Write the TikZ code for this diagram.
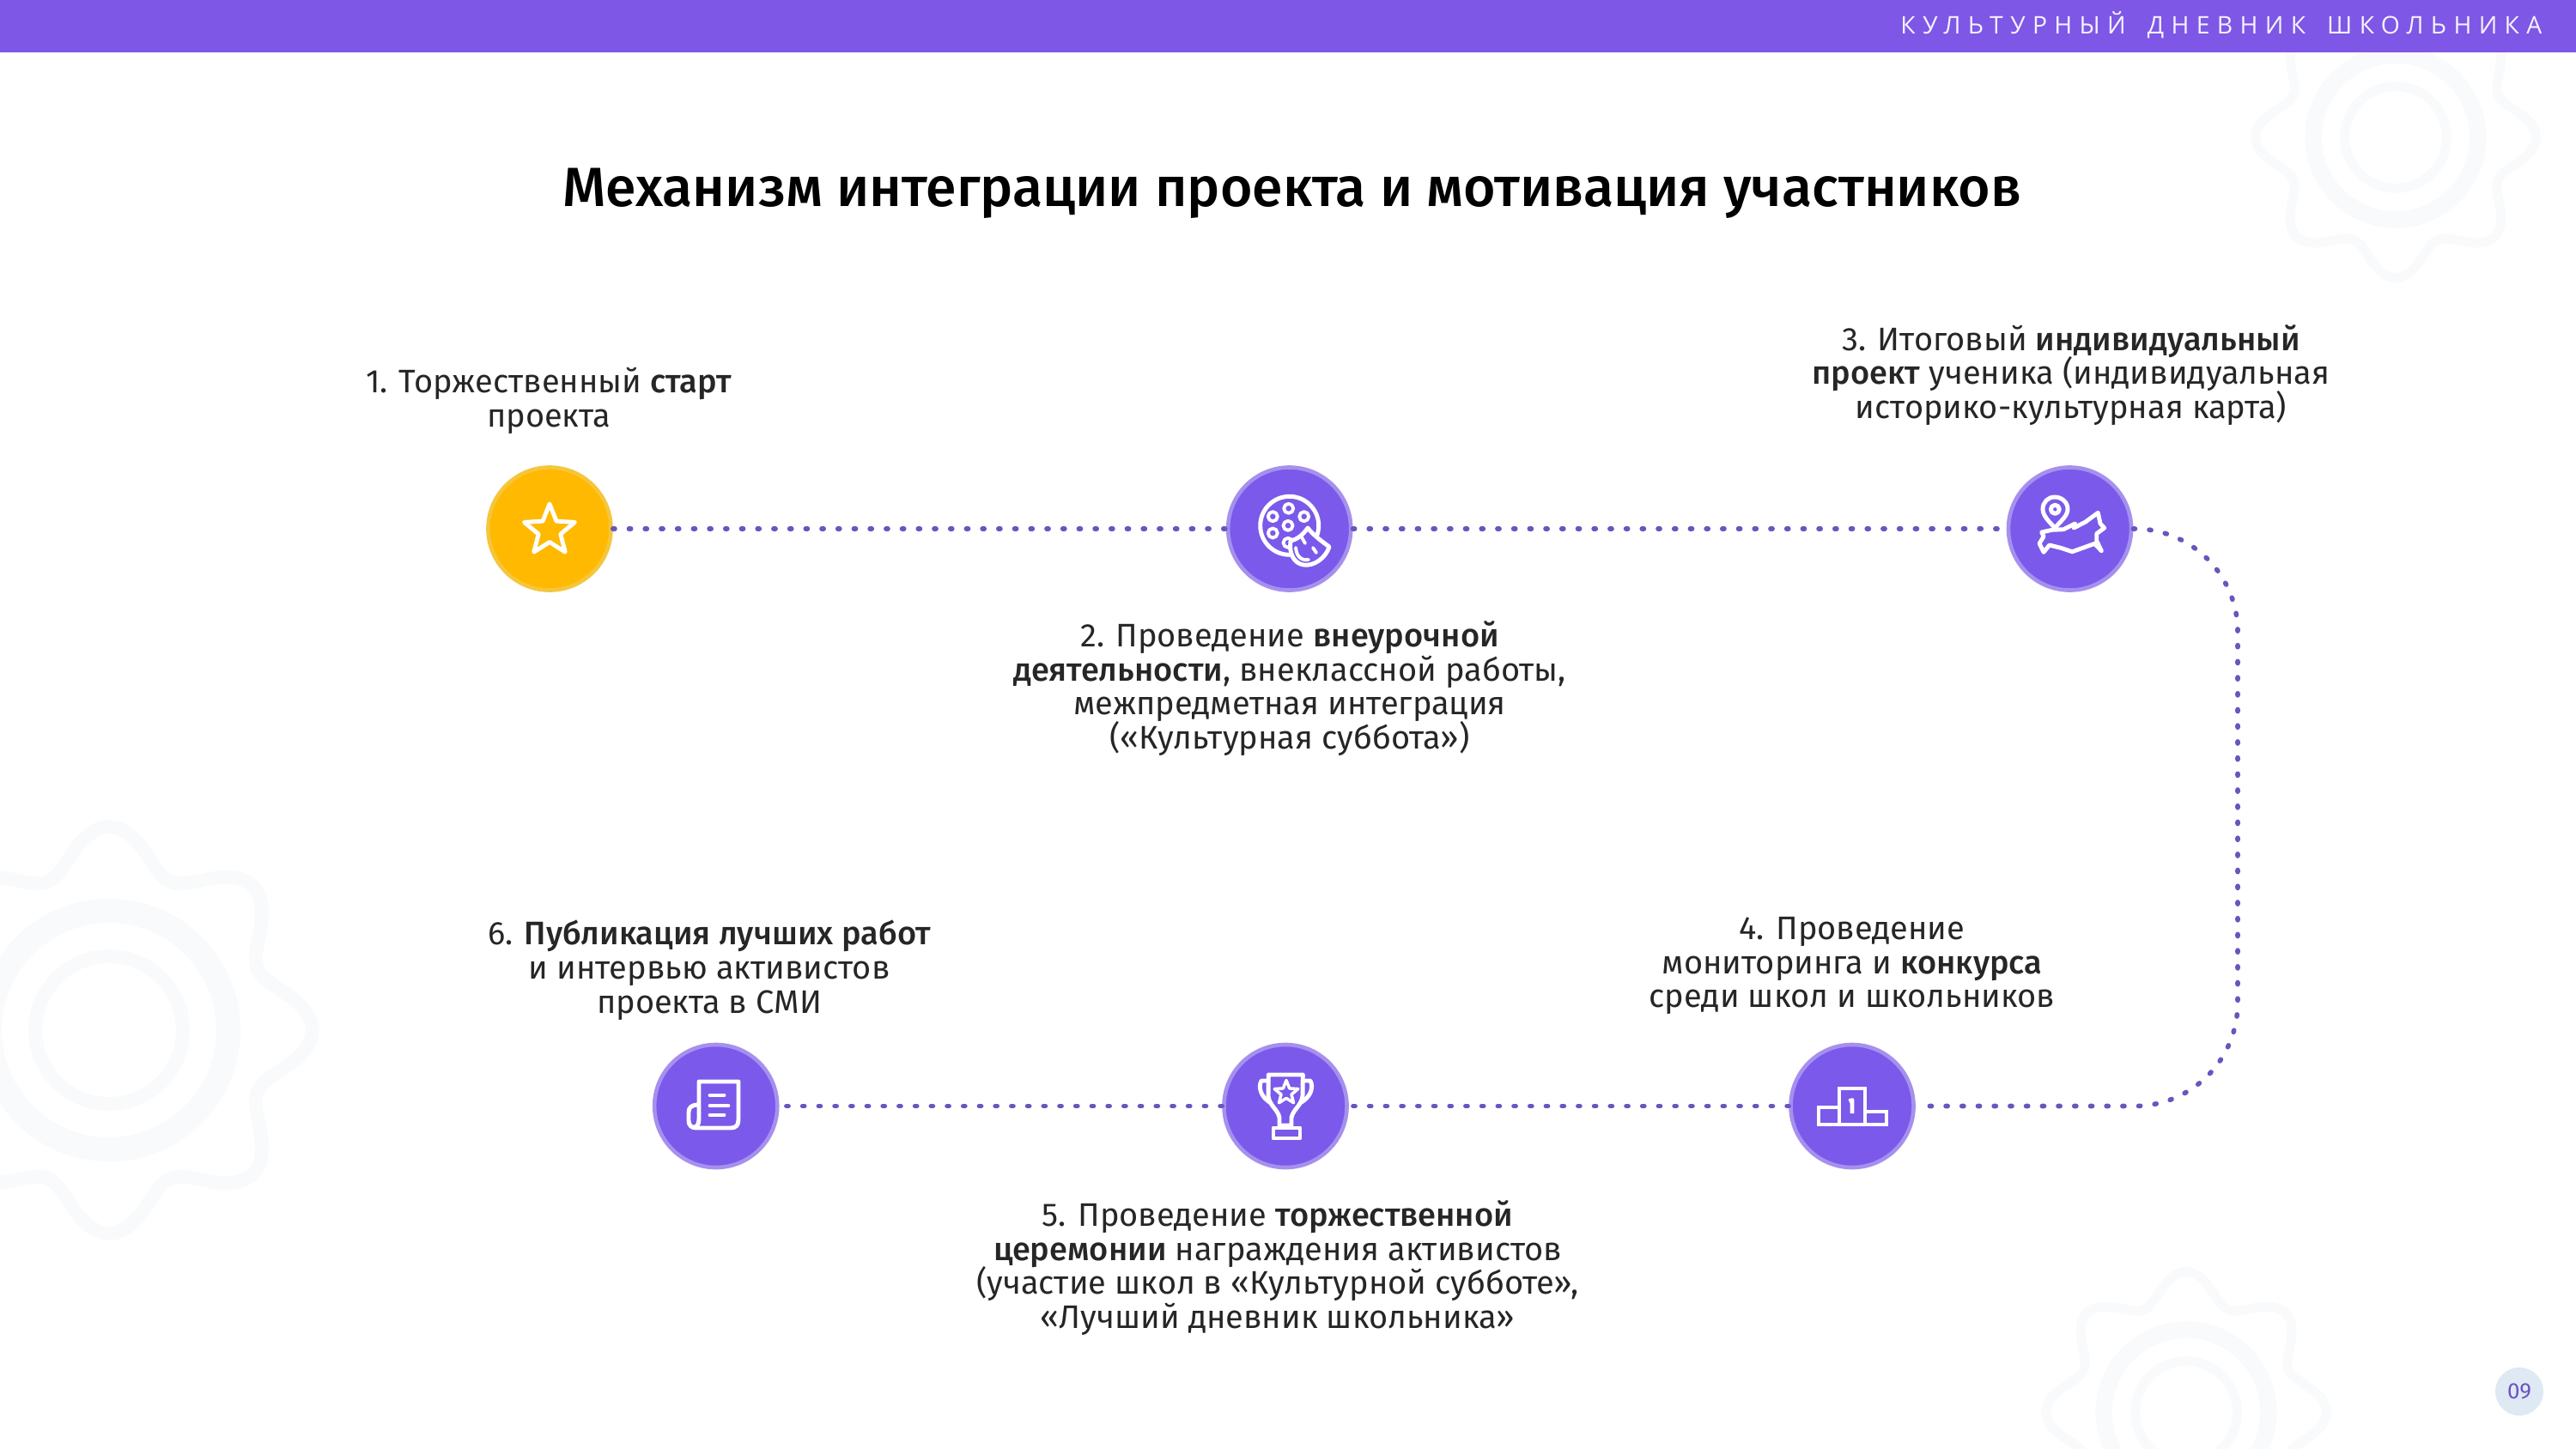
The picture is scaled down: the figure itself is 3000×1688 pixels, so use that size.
\documentclass[tikz,border=0pt]{standalone}
\usepackage{fontspec}
\setmainfont[BoldFont={Fira Sans Medium}]{Fira Sans}
\newfontfamily\headfont[LetterSpace=29.5,WordSpace=1.6]{Open Sans}
\usetikzlibrary{positioning,shapes.geometric}
\setlength{\lineskiplimit}{-6pt}
\setlength{\normallineskiplimit}{-6pt}
\definecolor{barviolet}{HTML}{7E57E6}
\definecolor{stepviolet}{HTML}{7B59EA}
\definecolor{ringviolet}{HTML}{A690EE}
\definecolor{dotviolet}{HTML}{6A54BE}
\definecolor{stepyellow}{HTML}{FFB900}
\definecolor{ringyellow}{HTML}{F5C63C}
\definecolor{textdark}{HTML}{262626}
\definecolor{badgeblue}{HTML}{DFE9F4}
\definecolor{gearpale}{HTML}{F8FAFC}
\tikzset{
  stepdot/.style={circle,inner sep=0pt,minimum size=1.43cm,line width=1.3pt,draw=ringviolet,fill=stepviolet},
  stepstar/.style={stepdot,draw=ringyellow,fill=stepyellow},
  steplabel/.style={align=center,inner sep=0pt,text=textdark,font=\fontsize{10.8}{11.34}\selectfont},
  dotline/.style={draw=dotviolet,line width=1.6pt,line cap=round,dash pattern=on 0.6pt off 4.72pt},
  iconline/.style={draw=white,line width=1.4pt,line cap=round,line join=round},
  iconstar/.style={star,star points=5,star point ratio=2.3,inner sep=0pt,iconline},
  gearline/.style={draw=gearpale},
}
\begin{document}
\begin{tikzpicture}[x=0.01cm,y=-0.01cm]
\useasboundingbox[fill=white] (0,0) rectangle (3000,1688);
%Zahnraeder im Hintergrund
\foreach \gx/\gy/\gs in {127/1200/1,2790/160/0.69,2546/1645/0.69}{
\draw[gearline,line width=\gs*4.5pt] plot[domain=0:360,samples=193,smooth] ({\gx+\gs*(212+25*cos(8*\x))*cos(\x)},{\gy+\gs*(212+25*cos(8*\x))*sin(\x)});
\draw[gearline,line width=\gs*8pt] (\gx,\gy) circle[radius=\gs*139];
\draw[gearline,line width=\gs*4.5pt] (\gx,\gy) circle[radius=\gs*86];
}
\fill[barviolet] (0,0) rectangle (3000,61);
\node (headline) [anchor=east,inner sep=0pt,text=white!92!barviolet] at (2961,29) {\headfont\fontsize{8.05}{10}\selectfont КУЛЬТУРНЫЙ ДНЕВНИК ШКОЛЬНИКА};
\node (title) [inner sep=0pt,text=black] at (1505,225) {\fontsize{18.3}{22}\selectfont\bfseries Механизм интеграции проекта и мотивация участников};
%Schritte
\node (start) [stepstar] at (640,616) {};
\node (lesson) [stepdot] at (1501.7,616) {};
\node (map) [stepdot] at (2410.5,616) {};
\node (contest) [stepdot] at (2157,1288.5) {};
\node (award) [stepdot] at (1497,1288.5) {};
\node (press) [stepdot] at (833.7,1288.5) {};
\coordinate (turntop) at (2606,616);
\coordinate (turnbottom) at (2606,1288.5);
\draw[dotline] (start) -- (lesson);
\draw[dotline] (lesson) -- (map);
\draw[dotline,rounded corners=1.2cm] (map) -- (turntop) -- (turnbottom) -- (contest);
\draw[dotline] (contest) -- (award);
\draw[dotline] (award) -- (press);
%Beschriftungen
\node (startlabel) [steplabel] at (639,467) {1. Торжественный \textbf{старт}\\проекта};
\node (lessonlabel) [steplabel] at (1502,802) {2. Проведение \textbf{внеурочной}\\\textbf{деятельности}, внеклассной работы,\\межпредметная интеграция\\(«Культурная суббота»)};
\node (maplabel) [steplabel] at (2412,437) {3. Итоговый \textbf{индивидуальный}\\\textbf{проект} ученика (индивидуальная\\историко-культурная карта)};
\node (contestlabel) [steplabel] at (2157,1125) {4. Проведение\\мониторинга и \textbf{конкурса}\\среди школ и школьников};
\node (awardlabel) [steplabel] at (1488,1477) {5. Проведение \textbf{торжественной}\\\textbf{церемонии} награждения активистов\\(участие школ в «Культурной субботе»,\\«Лучший дневник школьника»};
\node (presslabel) [steplabel] at (826,1130) {6. \textbf{Публикация лучших работ}\\и интервью активистов\\проекта в СМИ};
%Symbol 1
\node (starmark) [iconstar,minimum size=0.62cm] at (640,618) {};
%Symbol 2
\draw[iconline] (1501.7,612.3) circle[radius=34];
\foreach \px/\py in {1500.7/592.3,1482.3/601.7,1518.7/601.7,1500/612.3,1482.3/621,1500/632.3}{
\draw[iconline,line width=1.1pt] (\px,\py) circle[radius=5.5];
}
\draw[iconline,fill=stepviolet] (1503,630) .. controls (1512,628) and (1518,622) .. (1523,615) .. controls (1530,624) and (1540,631) .. (1548,637) .. controls (1544,650) and (1530,660) .. (1518,658) .. controls (1506,656) and (1501,644) .. cycle;
\draw[iconline,line width=1.1pt] (1516,626) -- (1520,633);
\draw[iconline,line width=1.1pt] (1529,638) -- (1533,644);
\draw[iconline,line width=1.1pt] (1509,638) .. controls (1510,652) and (1520,653) .. (1524,652);
%Symbol 3
\draw[iconline] (2393,615) .. controls (2386,607) and (2379,601) .. (2379,593) .. controls (2379,585) and (2385,579) .. (2393,579) .. controls (2401,579) and (2408,585) .. (2408,593) .. controls (2408,601) and (2400,607) .. cycle;
\draw[iconline] (2393.3,593.3) circle[radius=5];
\draw[iconline] (2375,633.3) -- (2380,625) -- (2377.7,620) -- (2390,617.3) -- (2403.3,616.7) -- (2416.7,610) -- (2415,615) -- (2428.3,608.3) -- (2443.3,597.3) -- (2446,610) -- (2450.7,615) -- (2441.7,621.7) -- (2441.7,630) -- (2447.3,641.7) -- (2439.3,633.3) -- (2430,636.7) -- (2413.3,642.7) -- (2400,638.3) -- (2386.7,635) -- (2380,643.3) -- cycle;
%Symbol 4
\draw[iconline,line cap=butt,line join=miter] (2118,1310) -- (2118,1290) -- (2142,1290) -- (2142,1268) -- (2172,1268) -- (2172,1295) -- (2197,1295) -- (2197,1310) -- cycle;
\draw[iconline,line cap=butt] (2142,1290) -- (2142,1310);
\draw[iconline,line cap=butt] (2172,1295) -- (2172,1310);
\draw[iconline,line cap=butt] (2153.5,1283) -- (2157,1281.5) -- (2157,1297);
%Symbol 5
\draw[iconline] (1477.3,1252) -- (1517.3,1252) -- (1517,1277) .. controls (1515,1289) and (1506,1292) .. (1504,1302) -- (1504,1311) -- (1490,1311) -- (1490,1302) .. controls (1488,1292) and (1479,1289) .. (1477,1277) -- cycle;
\draw[iconline] (1477,1259) -- (1469,1259) .. controls (1465,1266) and (1468,1278) .. (1480,1285);
\draw[iconline] (1517,1259) -- (1526,1259) .. controls (1530,1266) and (1527,1278) .. (1514,1285);
\draw[iconline] (1483,1314) rectangle (1514,1326);
\node (cupstar) [iconstar,line width=1pt,minimum size=0.29cm] at (1498,1273) {};
%Symbol 6
\draw[iconline,line cap=butt] (814,1297) -- (814,1260) -- (860,1260) -- (860,1304) .. controls (860,1311) and (857,1314) .. (851,1314) -- (811,1314) .. controls (805,1314) and (802,1311) .. (802,1305) -- (802,1296) .. controls (802,1290) and (805,1287) .. (814,1287);
\draw[iconline] (814,1297) -- (814,1304) .. controls (814,1310) and (811,1314) .. (807,1313);
\draw[iconline] (827,1276) -- (843,1276);
\draw[iconline] (827,1288) -- (848,1288);
\draw[iconline] (827,1299) -- (843,1299);
%Seitenzahl
\node (pagebadge) [circle,inner sep=0pt,minimum size=0.56cm,fill=badgeblue,text=dotviolet] at (2934,1621) {\fontsize{7.4}{9}\selectfont 09};
\end{tikzpicture}
\end{document}
